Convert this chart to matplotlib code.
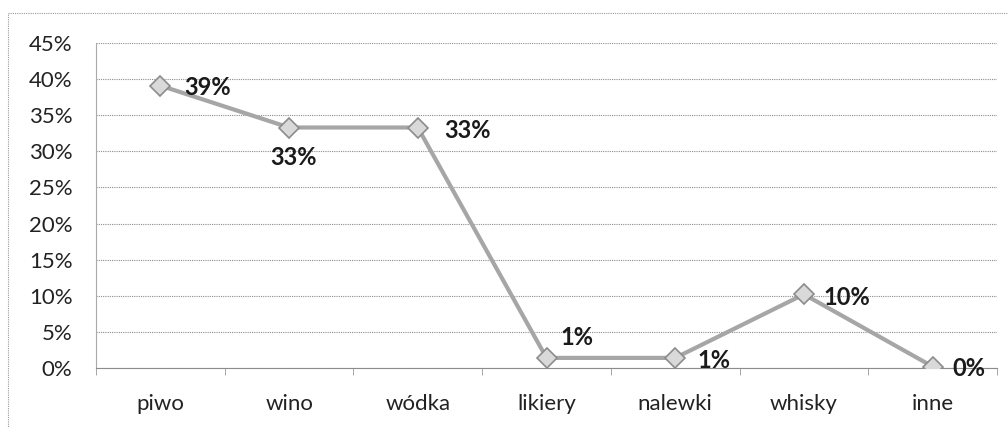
import matplotlib.pyplot as plt
from matplotlib.patches import Rectangle
from matplotlib.ticker import FuncFormatter

# Datos
kategorie = ['piwo', 'wino', 'wódka', 'likiery', 'nalewki', 'whisky', 'inne']
wartosci = [39.1, 33.3, 33.3, 1.4, 1.4, 10.2, 0.2]
etykiety = ['39%', '33%', '33%', '1%', '1%', '10%', '0%']
# przesunięcia etykiet (piksele) i wyrównanie
przesuniecia = [(24, -2), (4, -30), (26, -3), (14, 20), (22, -3), (20, -3), (20, -2)]
wyrownanie = ['left', 'center', 'left', 'left', 'left', 'left', 'left']

plt.rcParams['font.family'] = ['Lato', 'DejaVu Sans']

fig = plt.figure(figsize=(10.08, 4.28), dpi=100)
ax = fig.add_axes([96 / 1008, 1 - 368 / 428, 901 / 1008, 325 / 428])

x = range(len(kategorie))
ax.plot(x, wartosci, color='#a6a6a6', linewidth=3, marker='D', markersize=10,
        markerfacecolor='#d9d9d9', markeredgecolor='#8c8c8c', markeredgewidth=1.2,
        zorder=3)

for i, (v, t) in enumerate(zip(wartosci, etykiety)):
    ax.annotate(t, (i, v), xytext=przesuniecia[i], textcoords='offset pixels',
                ha=wyrownanie[i], va='center', fontsize=17, fontweight='bold',
                color='#1a1a1a', zorder=4)

ax.set_xlim(-0.5, len(kategorie) - 0.5)
ax.set_ylim(0, 45)
ax.set_yticks(range(0, 46, 5))
ax.yaxis.set_major_formatter(FuncFormatter(lambda v, p: f'{v:.0f}%'))
ax.set_xticks(list(x))
ax.set_xticklabels(kategorie)
ax.set_xticks([i + 0.5 for i in range(-1, len(kategorie))], minor=True)
ax.tick_params(axis='x', which='major', length=0, pad=19, labelsize=16, colors='#222222')
ax.tick_params(axis='x', which='minor', length=5, color='#999999', direction='out')
ax.tick_params(axis='y', length=0, pad=17, labelsize=16, colors='#222222')

ax.grid(axis='y', color='#8c8c8c', linestyle=(0, (1, 1)), linewidth=0.8)
ax.set_axisbelow(True)
for s in ['top', 'right']:
    ax.spines[s].set_visible(False)
ax.spines['left'].set_color('#aaaaaa')
ax.spines['left'].set_linestyle((0, (1, 1)))
ax.spines['bottom'].set_color('#8c8c8c')
ax.spines['bottom'].set_linestyle((0, (1, 1)))

# ramka wykresu
fig.patches.append(Rectangle((8 / 1008, -0.05), 1.05, 1 - 13 / 428 + 0.05,
                             transform=fig.transFigure, fill=False,
                             edgecolor='#999999', linestyle=(0, (1, 1)),
                             linewidth=0.8))

fig.savefig('out.png', dpi=100)
